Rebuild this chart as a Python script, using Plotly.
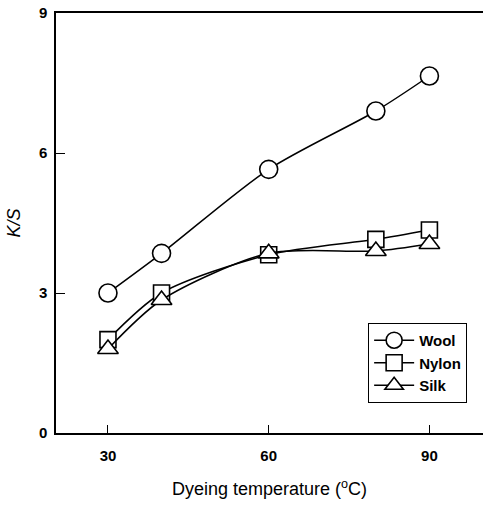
import plotly.graph_objects as go

temps = [30, 40, 60, 80, 90]
wool = [3.0, 3.85, 5.65, 6.9, 7.65]
nylon = [2.0, 3.0, 3.82, 4.15, 4.35]
silk = [1.8, 2.85, 3.85, 3.9, 4.05]

series = [("Wool", wool, "circle", 18), ("Nylon", nylon, "square", 16), ("Silk", silk, "triangle-up", 18)]

fig = go.Figure()
for name, vals, sym, sz in series:
    fig.add_trace(go.Scatter(
        x=temps, y=vals, name=name, mode="lines+markers",
        line=dict(color="black", width=1.5, shape="spline", smoothing=0.8),
        marker=dict(symbol=sym, size=sz, color="white", line=dict(color="black", width=1.6)),
    ))

FAM = "Liberation Sans, Arial, sans-serif"
fig.update_layout(
    width=483, height=508,
    margin=dict(l=56, r=0, t=13, b=75),
    plot_bgcolor="white", paper_bgcolor="white",
    font=dict(family=FAM, size=15, color="black"),
    showlegend=True,
    legend=dict(x=0.731, y=0.262, xanchor="left", yanchor="top",
                bordercolor="black", borderwidth=1, bgcolor="white",
                font=dict(family=FAM, size=15, color="black", weight="bold"),
                tracegroupgap=0, itemwidth=40),
)
fig.update_xaxes(range=[20.3, 100], tickvals=[30, 60, 90], ticks="inside", ticklen=8,
                 tickwidth=1.2, tickcolor="black", showline=True, linecolor="black", linewidth=1.5,
                 mirror=True, showgrid=False, zeroline=False, ticklabelstandoff=8,
                 tickfont=dict(family=FAM, size=15, color="black", weight="bold"),
                 title=dict(text="Dyeing temperature (<sup>o</sup>C)", standoff=20,
                            font=dict(family=FAM, size=18, color="black")))
fig.update_yaxes(range=[0, 9], tickvals=[0, 3, 6, 9], ticks="inside", ticklen=9,
                 tickwidth=1.2, tickcolor="black", showline=True, linecolor="black", linewidth=1.5,
                 showgrid=False, zeroline=False, ticklabelstandoff=4,
                 tickfont=dict(family=FAM, size=15, color="black", weight="bold"),
                 title=dict(text="<i>K/S</i>", standoff=14,
                            font=dict(family=FAM, size=18, color="black")))

fig.write_html("out.html")
